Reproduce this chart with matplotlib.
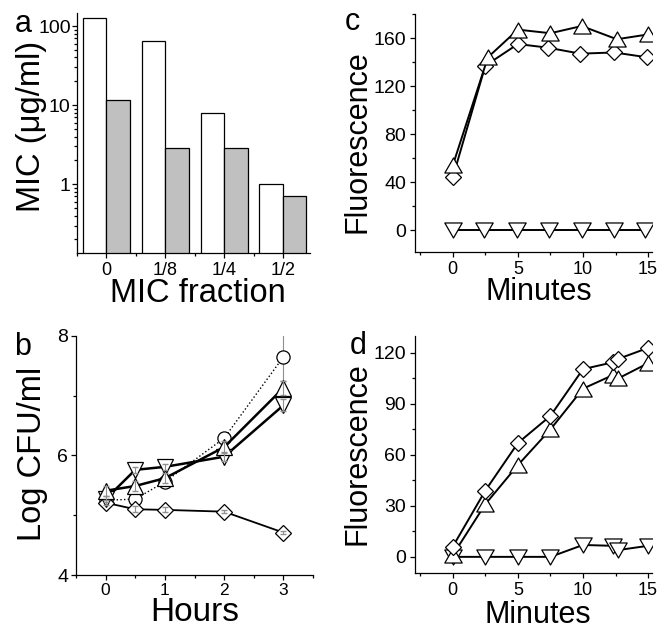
import numpy as np
import matplotlib
matplotlib.use("Agg")
import matplotlib.pyplot as plt
from matplotlib.path import Path
from matplotlib.ticker import MultipleLocator, LogLocator, NullFormatter

plt.rcParams["font.family"] = ["Liberation Sans", "DejaVu Sans"]

# ---------------------------------------------------------------- data
# (a) MIC vs MIC fraction, two bars per group (log axis)
fractions = ["0", "1/8", "1/4", "1/2"]
mic_white = [128, 64, 8, 1]
mic_gray = [11.5, 2.9, 2.9, 0.7]

# (b) Log CFU/ml vs hours
hours = [0, 0.5, 1, 2, 3]
b_circle = [5.25, 5.27, 5.56, 6.29, 7.65]
b_up = [5.41, 5.49, 5.62, 6.14, 7.13]
b_down = [5.27, 5.76, 5.81, 5.98, 6.84]
b_diamond = [5.21, 5.10, 5.09, 5.06, 4.71]
b_circle_err = [0.04, 0.04, 0.05, 0.05, 0.40]
b_up_err = [0.08, 0.08, 0.08, 0.10, 0.12]
b_down_err = [0.05, 0.05, 0.05, 0.08, 0.10]
b_diamond_err = [0.04, 0.05, 0.04, 0.03, 0.03]

# (c) fluorescence vs minutes
c_up_t = [0, 2.7, 5.0, 7.5, 9.9, 12.6, 15.0]
c_up = [54, 144, 167, 164, 170, 159, 163]
c_dia_t = [0, 2.5, 5.0, 7.3, 9.8, 12.4, 14.9]
c_dia = [44, 137, 155, 152, 147, 148, 144]
c_down_t = [0, 2.4, 4.9, 7.4, 9.9, 12.4, 14.8]
c_down = [0, 0, 0, 0, 0, 0, 0]

# (d) fluorescence vs minutes
d_t = [0, 2.5, 5, 7.5, 10, 12.3, 12.7, 15]
d_dia = [6, 39, 67, 83, 110.5, 114.5, 116.5, 123]
d_up = [1, 31, 54, 75, 99, 107, 105, 114]
d_down = [0, 0, 0, 0, 7, 6.5, 4, 6.5]

# ---------------------------------------------------------------- layout
W, H = 657, 629
fig = plt.figure(figsize=(W / 100, H / 100), dpi=100)


def px_axes(l, r, t, b):
    return fig.add_axes([l / W, 1 - b / H, (r - l) / W, (b - t) / H])


def style(ax, ypad=1.5, xpad=3):
    for sp in ("top", "right"):
        ax.spines[sp].set_visible(False)
    for sp in ("left", "bottom"):
        ax.spines[sp].set_linewidth(0.9)
    ax.tick_params(which="both", direction="out", width=0.9)
    ax.tick_params(which="major", length=3.5)
    ax.tick_params(which="minor", length=2)
    ax.tick_params(axis="y", pad=ypad, labelsize=14)
    ax.tick_params(axis="x", pad=xpad, labelsize=13)


# equilateral triangles centred on their bounding box
TRI_UP = Path([(0, 0.75), (-0.866, -0.75), (0.866, -0.75), (0, 0)], closed=True)
TRI_DN = Path([(0, -0.75), (-0.866, 0.75), (0.866, 0.75), (0, 0)], closed=True)
mk = dict(mfc="white", mec="black", mew=0.9, color="black")

axA = px_axes(77, 310, 13, 253)
axB = px_axes(76, 313, 336, 575)
axC = px_axes(415, 652, 14, 252)
axD = px_axes(415, 652, 336, 573)

# ---------------------------------------------------------------- Panel a
x = np.arange(len(fractions))
axA.set_yscale("log")
axA.bar(x - 0.2, mic_white, width=0.4, color="white", edgecolor="black", lw=0.9)
axA.bar(x + 0.2, mic_gray, width=0.4, color="#c0c0c0", edgecolor="black", lw=0.9)
axA.set_xlim(-0.5, 3.46)
axA.set_ylim(0.135, 146)
axA.set_xticks(x, labels=fractions)
axA.xaxis.set_minor_locator(MultipleLocator(0.5))
axA.set_yticks([1, 10, 100], labels=["1", "10", "100"])
axA.yaxis.set_minor_locator(LogLocator(subs=np.arange(2, 10)))
axA.yaxis.set_minor_formatter(NullFormatter())
style(axA, ypad=1, xpad=3)
axA.set_ylabel("MIC (μg/ml)", fontsize=23.5)
axA.set_xlabel("MIC fraction", fontsize=23.5, va="top")
axA.yaxis.set_label_coords(-0.129, 0.529)
axA.xaxis.set_label_coords(0.519, -0.106)

# ---------------------------------------------------------------- Panel b
axB.errorbar(hours, b_circle, yerr=b_circle_err, fmt="none", ecolor="#909090",
             elinewidth=0.8, capsize=2, zorder=1)
axB.plot(hours, b_circle, ls=":", lw=1.0, marker="o", ms=9.5, zorder=2, **mk)
axB.plot(hours, b_diamond, ls="-", lw=1.3, marker="D", ms=8.5, zorder=3, **mk)
axB.plot(hours, b_down, ls="-", lw=1.8, marker="v", ms=12, zorder=4, **mk)
axB.plot(hours, b_up, ls="-", lw=1.8, marker="^", ms=12, zorder=5, **mk)
for vals, err in [(b_diamond, b_diamond_err), (b_down, b_down_err), (b_up, b_up_err)]:
    axB.errorbar(hours, vals, yerr=err, fmt="none", ecolor="#909090",
                 elinewidth=0.8, capsize=2, zorder=6)
axB.set_xlim(-0.5, 3.5)
axB.set_ylim(4, 8)
axB.set_xticks([0, 1, 2, 3])
axB.xaxis.set_minor_locator(MultipleLocator(0.5))
axB.set_yticks([4, 6, 8])
axB.yaxis.set_minor_locator(MultipleLocator(1))
style(axB, ypad=2, xpad=2)
axB.tick_params(axis="x", labelsize=12.5)
axB.set_ylabel("Log CFU/ml", fontsize=23.5)
axB.set_xlabel("Hours", fontsize=24, va="top")
axB.yaxis.set_label_coords(-0.118, 0.506)
axB.xaxis.set_label_coords(0.502, -0.094)

# ---------------------------------------------------------------- Panel c
axC.plot(c_down_t, c_down, ls="-", lw=1.4, marker=TRI_DN, ms=12.5, zorder=2, **mk)
axC.plot(c_dia_t, c_dia, ls="-", lw=1.4, marker="D", ms=8.5, zorder=3, **mk)
axC.plot(c_up_t, c_up, ls="-", lw=1.4, marker=TRI_UP, ms=12.5, zorder=4, **mk)
axC.set_xlim(-2.9, 15.3)
axC.set_ylim(-18, 180)
axC.set_xticks([0, 5, 10, 15])
axC.xaxis.set_minor_locator(MultipleLocator(2.5))
axC.set_yticks([0, 40, 80, 120, 160])
axC.yaxis.set_minor_locator(MultipleLocator(20))
style(axC, ypad=3, xpad=3)
axC.set_ylabel("Fluorescence", fontsize=22)
axC.set_xlabel("Minutes", fontsize=22, va="top")
axC.yaxis.set_label_coords(-0.181, 0.462)
axC.xaxis.set_label_coords(0.523, -0.105)

# ---------------------------------------------------------------- Panel d
axD.plot(d_t, d_down, ls="-", lw=1.4, marker=TRI_DN, ms=12.5, zorder=2, **mk)
axD.plot(d_t, d_up, ls="-", lw=1.4, marker=TRI_UP, ms=12.5, zorder=3, **mk)
axD.plot(d_t, d_dia, ls="-", lw=1.4, marker="D", ms=8.5, zorder=4, **mk)
axD.set_xlim(-2.9, 15.3)
axD.set_ylim(-9.5, 130)
axD.set_xticks([0, 5, 10, 15])
axD.xaxis.set_minor_locator(MultipleLocator(2.5))
axD.set_yticks([0, 30, 60, 90, 120])
axD.yaxis.set_minor_locator(MultipleLocator(15))
style(axD, ypad=3, xpad=3)
axD.set_ylabel("Fluorescence", fontsize=22)
axD.set_xlabel("Minutes", fontsize=22, va="top")
axD.yaxis.set_label_coords(-0.181, 0.505)
axD.xaxis.set_label_coords(0.519, -0.112)

# panel letters
for letter, (lx, ly) in {"a": (15, 32), "b": (14, 355), "c": (345, 30),
                         "d": (350, 354)}.items():
    fig.text(lx / W, 1 - ly / H, letter, fontsize=22, ha="left", va="baseline")

fig.savefig("out.png", dpi=100)
